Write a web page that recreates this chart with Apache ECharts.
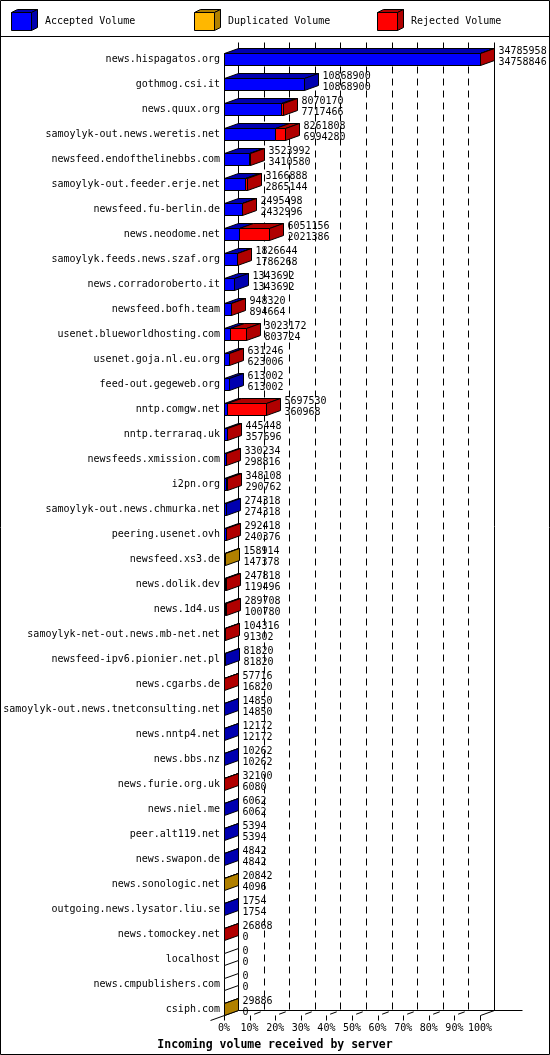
<!DOCTYPE html>
<html>
<head>
<meta charset="utf-8">
<script src="https://cdn.jsdelivr.net/npm/echarts@6/dist/echarts.min.js"></script>
<style>
html,body{margin:0;padding:0;background:#fff;}
#chart{width:550px;height:1055px;}
</style>
</head>
<body>
<div id="chart"></div>
<script>
const servers = [
  "news.hispagatos.org","gothmog.csi.it","news.quux.org","samoylyk-out.news.weretis.net",
  "newsfeed.endofthelinebbs.com","samoylyk-out.feeder.erje.net","newsfeed.fu-berlin.de",
  "news.neodome.net","samoylyk.feeds.news.szaf.org","news.corradoroberto.it","newsfeed.bofh.team",
  "usenet.blueworldhosting.com","usenet.goja.nl.eu.org","feed-out.gegeweb.org","nntp.comgw.net",
  "nntp.terraraq.uk","newsfeeds.xmission.com","i2pn.org","samoylyk-out.news.chmurka.net",
  "peering.usenet.ovh","newsfeed.xs3.de","news.dolik.dev","news.1d4.us",
  "samoylyk-net-out.news.mb-net.net","newsfeed-ipv6.pionier.net.pl","news.cgarbs.de",
  "samoylyk-out.news.tnetconsulting.net","news.nntp4.net","news.bbs.nz","news.furie.org.uk",
  "news.niel.me","peer.alt119.net","news.swapon.de","news.sonologic.net",
  "outgoing.news.lysator.liu.se","news.tomockey.net","localhost","news.cmpublishers.com","csiph.com"
];
const totalVolume = [
  34785958,10868900,8070170,8261808,3523992,3166888,2495498,6051156,1826644,1343692,948320,
  3023172,631246,613002,5697530,445448,330234,348108,274318,292418,158914,247818,289708,
  104316,81820,57716,14850,12172,10262,32100,6062,5394,4842,20842,1754,26868,0,0,29886
];
const acceptedVolume = [
  34758846,10868900,7717466,6994280,3410580,2865144,2432996,2021386,1786268,1343692,894664,
  803724,623006,613002,360968,357696,298816,290762,274318,240376,147378,119496,100780,
  91302,81820,16820,14850,12172,10262,6080,6062,5394,4842,4096,1754,0,0,0,0
];
const duplicatedVolume = [
  0,0,0,0,0,0,0,0,0,0,0,0,0,0,0,0,0,0,0,0,11536,0,0,0,0,0,0,0,0,0,0,0,0,16746,0,0,0,0,29886
];
const rejectedVolume = totalVolume.map((t, i) => t - acceptedVolume[i] - duplicatedVolume[i]);
const tickLabels = ["0%","10%","20%","30%","40%","50%","60%","70%","80%","90%","100%"];
const legendNames = ["Accepted Volume","Duplicated Volume","Rejected Volume"];
const titleText = "Incoming volume received by server";

const FONT = '10px "DejaVu Sans Mono", "Liberation Mono", monospace';
const COL = {
  acc: ["#0000ff", "#0000b0"],
  dup: ["#ffb700", "#b08000"],
  rej: ["#ff0000", "#b00000"]
};
const DX = 14, DY = 5, HALF = 6;
const maxVolume = Math.max(...totalVolume);
const cr = v => Math.round(v) + 0.5;
const pct = v => v / maxVolume * 100;

function poly(points, fill) {
  return { type: 'polygon', shape: { points }, style: { fill, stroke: '#000', lineWidth: 1 } };
}
function line(x1, y1, x2, y2, dash) {
  return { type: 'line', shape: { x1, y1, x2, y2 },
    style: { stroke: '#000', lineWidth: 1, lineDash: dash || null, fill: null } };
}
function txt(text, x, y) {
  return { type: 'text', style: { text, x, y, fill: '#000', font: FONT,
    textAlign: 'left', textVerticalAlign: 'middle', align: 'left', verticalAlign: 'middle' } };
}

function renderFrame(params, api) {
  const n = servers.length;
  const xf0 = cr(api.coord([0, 0])[0]);
  const xf100 = cr(api.coord([100, 0])[0]);
  const yFirst = api.coord([0, 0])[1];
  const yLast = api.coord([0, n - 1])[1];
  const yTop = cr(yFirst - 17);
  const frontFloor = cr(yLast + HALF);
  const backFloor = frontFloor - DY;
  const ch = [];
  for (let k = 1; k <= 9; k++) {
    const xf = cr(api.coord([k * 10, 0])[0]);
    ch.push({ type: 'polyline', shape: { points: [[xf + DX, yTop], [xf + DX, backFloor], [xf, frontFloor]] },
      style: { stroke: '#000', lineWidth: 1, lineDash: [7, 5], fill: null } });
  }
  ch.push(line(xf0 + DX, yTop, xf0 + DX, backFloor));
  ch.push(line(xf100 + DX, yTop, xf100 + DX, backFloor));
  ch.push(line(xf0 + DX, backFloor, xf100 + DX + 28, backFloor));
  ch.push(line(xf0 + DX, backFloor, xf0 - DX, frontFloor + DY));
  ch.push(line(xf100 + DX, backFloor, xf100, frontFloor));
  ch.push(line(xf0, cr(yFirst - HALF), xf0, frontFloor));
  for (let k = 0; k <= 10; k++) {
    const xf = cr(api.coord([k * 10, 0])[0]);
    ch.push(line(xf, frontFloor, xf, frontFloor + 5));
  }
  return { type: 'group', children: ch };
}

function renderBar(params, api) {
  const i = params.dataIndex;
  const segs = [[acceptedVolume[i], COL.acc], [duplicatedVolume[i], COL.dup], [rejectedVolume[i], COL.rej]];
  const yc = api.coord([0, i])[1];
  const yt = cr(yc - HALF), yb = cr(yc + HALF);
  let cum = 0, lastDark = null;
  const fronts = [], tops = [];
  segs.forEach(([v, c]) => {
    if (v <= 0) return;
    const x0 = cr(api.coord([pct(cum), i])[0]);
    cum += v;
    const x1 = cr(api.coord([pct(cum), i])[0]);
    fronts.push(poly([[x0, yt], [x1, yt], [x1, yb], [x0, yb]], c[0]));
    tops.push(poly([[x0, yt], [x0 + DX, yt - DY], [x1 + DX, yt - DY], [x1, yt]], c[1]));
    lastDark = c[1];
  });
  const xe = cr(api.coord([pct(cum), i])[0]);
  const side = poly([[xe, yt], [xe + DX, yt - DY], [xe + DX, yb - DY], [xe, yb]], lastDark || '#fff');
  const labels = [
    txt(String(totalVolume[i]), xe + DX + 4, yc - 7.5),
    txt(String(acceptedVolume[i]), xe + DX + 4, yc + 3.5)
  ];
  return { type: 'group', children: fronts.concat(tops, [side], labels) };
}

// legend graphics
const legendX = [11, 194, 377];
const legendCols = [COL.acc, COL.dup, COL.rej];
const graphics = [
  { type: 'rect', shape: { x: 0.5, y: 0.5, width: 549, height: 1054 }, style: { fill: null, stroke: '#000', lineWidth: 1 }, z: 10 },
  { type: 'line', shape: { x1: 0, y1: 36.5, x2: 550, y2: 36.5 }, style: { stroke: '#000', lineWidth: 1 }, z: 10 }
];
legendNames.forEach((name, k) => {
  const x = legendX[k] + 0.5, y = 12.5, w = 20, h = 18, dx = 6, dy = 3;
  const c = legendCols[k];
  graphics.push({ type: 'polygon', shape: { points: [[x, y], [x + w, y], [x + w, y + h], [x, y + h]] }, style: { fill: c[0], stroke: '#000', lineWidth: 1 } });
  graphics.push({ type: 'polygon', shape: { points: [[x, y], [x + dx, y - dy], [x + w + dx, y - dy], [x + w, y]] }, style: { fill: c[1], stroke: '#000', lineWidth: 1 } });
  graphics.push({ type: 'polygon', shape: { points: [[x + w, y], [x + w + dx, y - dy], [x + w + dx, y + h - dy], [x + w, y + h]] }, style: { fill: c[1], stroke: '#000', lineWidth: 1 } });
  graphics.push({ type: 'text', style: { text: name, x: x + 33.5, y: 21, fill: '#000', font: FONT, textVerticalAlign: 'middle', verticalAlign: 'middle' } });
});

const chart = echarts.init(document.getElementById('chart'), null, { renderer: 'canvas' });
chart.setOption({
  backgroundColor: '#fff',
  animation: false,
  title: {
    text: titleText, left: 'center', top: 1039, padding: 0,
    textStyle: { fontFamily: '"DejaVu Sans Mono", monospace', fontWeight: 'bold', fontSize: 11.5, color: '#000' }
  },
  graphic: graphics,
  grid: { left: 224, top: 46.5, width: 256, height: 975, containLabel: false, outerBoundsMode: 'none' },
  xAxis: {
    type: 'value', min: 0, max: 100, interval: 10,
    axisLine: { show: false }, axisTick: { show: false }, splitLine: { show: false },
    axisLabel: {
      margin: 6.5, verticalAlign: 'middle', color: '#000',
      fontFamily: '"DejaVu Sans Mono", monospace', fontSize: 10,
      formatter: v => tickLabels[Math.round(v / 10)]
    }
  },
  yAxis: {
    type: 'category', data: servers, inverse: true,
    axisLine: { show: false }, axisTick: { show: false }, splitLine: { show: false },
    axisLabel: { interval: 0, margin: 4, padding: [2, 0, 0, 0], color: '#000', fontFamily: '"DejaVu Sans Mono", monospace', fontSize: 10 }
  },
  series: [
    { type: 'custom', name: 'frame', clip: false, renderItem: renderFrame, data: [[0, 0]], encode: { x: 0, y: 1 }, silent: true },
    { type: 'custom', name: 'bars', clip: false, renderItem: renderBar,
      data: servers.map((s, i) => [pct(totalVolume[i]), i]), encode: { x: 0, y: 1 } }
  ]
});
</script>
</body>
</html>
